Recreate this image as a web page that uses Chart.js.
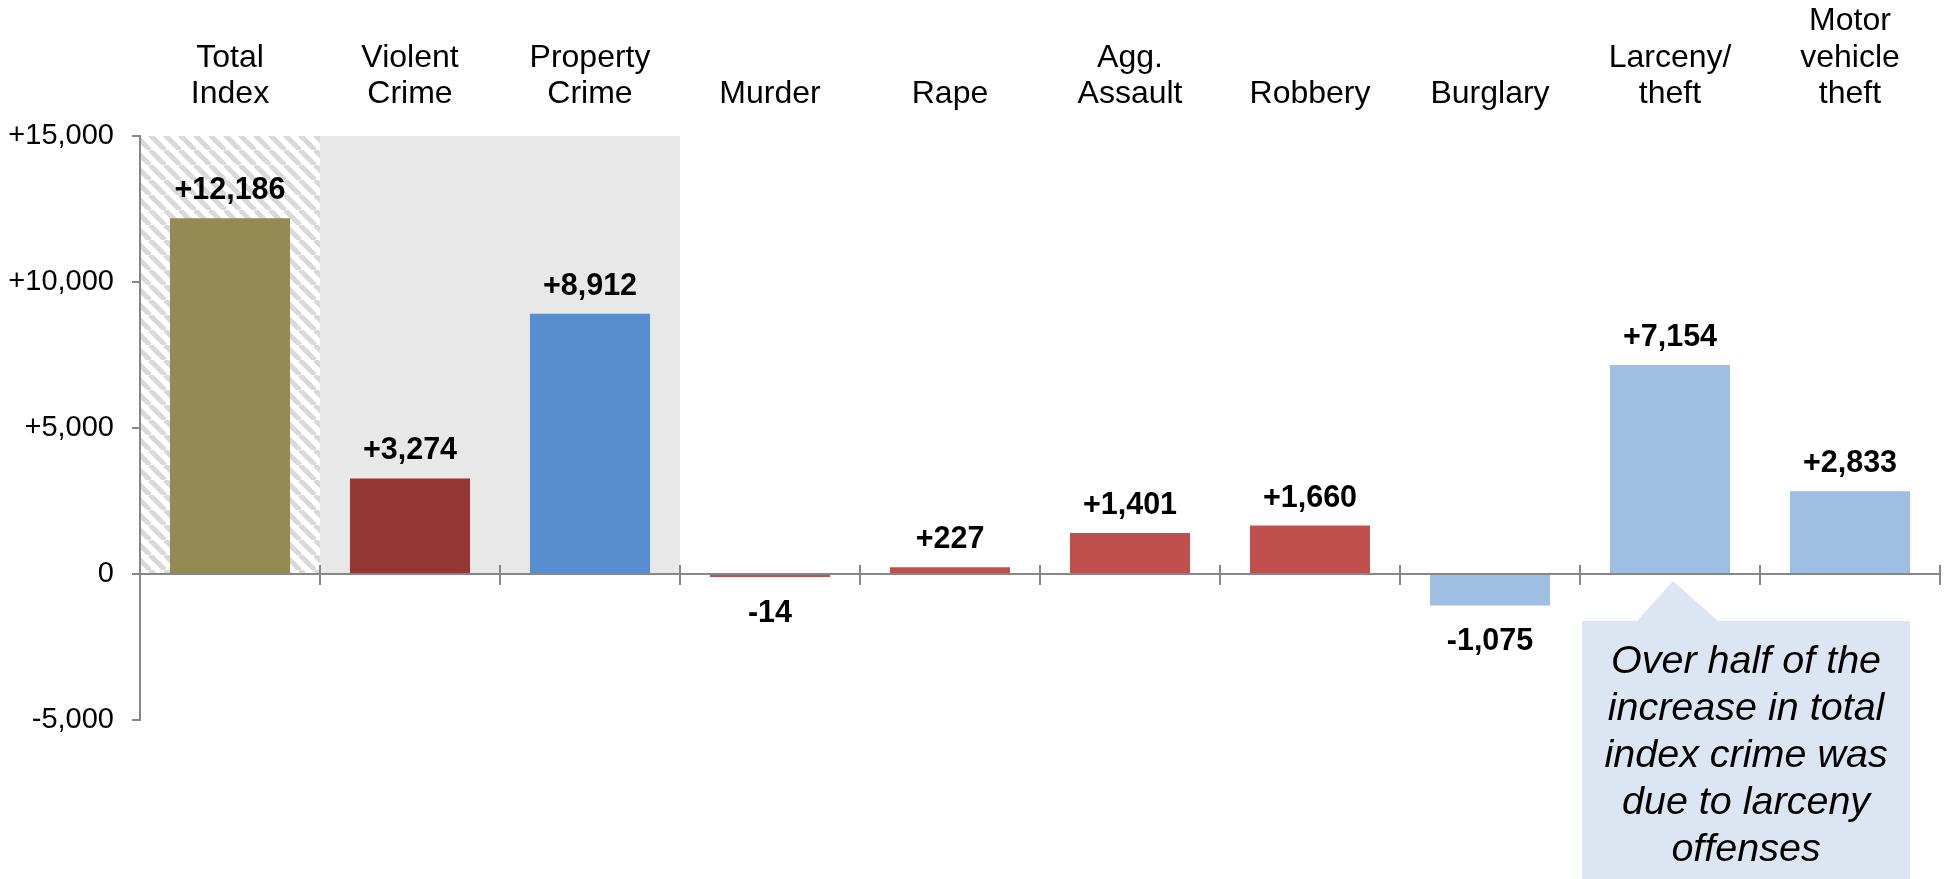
<!DOCTYPE html>
<html>
<head>
<meta charset="utf-8">
<script src="https://cdn.jsdelivr.net/npm/chart.js@4.4.1/dist/chart.umd.min.js"></script>
<style>
  html, body { margin: 0; padding: 0; background: #ffffff; overflow: hidden; }
  canvas { display: block; }
</style>
</head>
<body>
<canvas id="c" width="1946" height="879"></canvas>
<script>
// ---- data ----
const categories = [
  ["Total", "Index"], ["Violent", "Crime"], ["Property", "Crime"], "Murder", "Rape",
  ["Agg.", "Assault"], "Robbery", "Burglary", ["Larceny/", "theft"], ["Motor", "vehicle", "theft"]
];
const changeValues = [12186, 3274, 8912, -14, 227, 1401, 1660, -1075, 7154, 2833];
const yTickValues = [-5000, 0, 5000, 10000, 15000];
const calloutLines = ["Over half of the", "increase in total", "index crime was", "due to larceny", "offenses"];

// ---- styles ----
const barColors = ["#948A54", "#953735", "#588ECF", "#C0504D", "#C0504D", "#C0504D", "#C0504D", "#9EBFE2", "#9EBFE2", "#9EBFE2"];
const FONT = "'Liberation Sans', Arial, Helvetica, sans-serif";
const AXIS_GRAY = "#878787";

function fmt(v) {
  const s = Math.abs(v).toLocaleString("en-US");
  if (v > 0) return "+" + s;
  if (v < 0) return "-" + s;
  return "0";
}

function makeHatch(ctx) {
  const s = 15;
  const pc = document.createElement("canvas");
  pc.width = s; pc.height = s;
  const p = pc.getContext("2d");
  p.fillStyle = "#ffffff";
  p.fillRect(0, 0, s, s);
  p.strokeStyle = "#d9d9d9";
  p.lineWidth = 5;
  for (let k = -1; k <= 1; k++) {
    p.beginPath();
    p.moveTo(k * s, 0);
    p.lineTo(k * s + s, s);
    p.stroke();
  }
  return ctx.createPattern(pc, "repeat");
}

const backgroundPlugin = {
  id: "groupBackground",
  beforeDraw(chart) {
    const { ctx } = chart;
    const x = chart.scales.x, y = chart.scales.y;
    const half = (x.getPixelForValue(1) - x.getPixelForValue(0)) / 2;
    const top = y.getPixelForValue(15000);
    const bottom = y.getPixelForValue(0);
    ctx.save();
    ctx.fillStyle = makeHatch(ctx);
    const l0 = x.getPixelForValue(0) - half, r0 = x.getPixelForValue(0) + half;
    ctx.fillRect(l0, top, r0 - l0, bottom - top);
    ctx.fillStyle = "#E8E8E8";
    const l1 = x.getPixelForValue(1) - half, r1 = x.getPixelForValue(2) + half;
    ctx.fillRect(l1, top, r1 - l1, bottom - top);
    ctx.restore();
  }
};

const overlayPlugin = {
  id: "overlay",
  afterDatasetsDraw(chart) {
    const { ctx } = chart;
    const x = chart.scales.x, y = chart.scales.y;
    const half = (x.getPixelForValue(1) - x.getPixelForValue(0)) / 2;
    const zero = y.getPixelForValue(0);
    ctx.save();
    ctx.strokeStyle = AXIS_GRAY;
    ctx.lineWidth = 2;
    for (let i = 1; i <= categories.length; i++) {
      const px = Math.round(x.getPixelForValue(i - 1) + half);
      ctx.beginPath();
      ctx.moveTo(px, zero);
      ctx.lineTo(px, zero - 9);
      ctx.stroke();
    }
    const meta = chart.getDatasetMeta(0);
    ctx.fillStyle = "#000000";
    ctx.font = "bold 30.5px " + FONT;
    ctx.textAlign = "center";
    ctx.textBaseline = "alphabetic";
    meta.data.forEach((el, i) => {
      const v = changeValues[i];
      const props = el.getProps(["x", "y", "base"], true);
      if (v >= 0) {
        ctx.fillText(fmt(v), props.x, Math.min(props.y, props.base) - 19);
      } else {
        ctx.fillText(fmt(v), props.x, Math.max(props.y, props.base) + 45);
      }
    });
    ctx.restore();
  },
  afterDraw(chart) {
    const { ctx } = chart;
    const x = chart.scales.x, y = chart.scales.y;
    const cw = x.getPixelForValue(1) - x.getPixelForValue(0);
    const c8 = x.getPixelForValue(8);
    const c9 = x.getPixelForValue(9);
    const zero = y.getPixelForValue(0);
    const boxLeft = c8 - 0.488 * cw;
    const boxRight = c9 + 0.333 * cw;
    const boxTop = zero + 47;
    const apexX = c8 + 3, apexY = zero + 7;
    ctx.save();
    ctx.fillStyle = "#DCE6F2";
    ctx.beginPath();
    ctx.moveTo(boxLeft, boxTop);
    ctx.lineTo(apexX - 36, boxTop);
    ctx.lineTo(apexX, apexY);
    ctx.lineTo(apexX + 45, boxTop);
    ctx.lineTo(boxRight, boxTop);
    ctx.lineTo(boxRight, chart.height + 10);
    ctx.lineTo(boxLeft, chart.height + 10);
    ctx.closePath();
    ctx.fill();
    ctx.fillStyle = "#000000";
    ctx.font = "italic 39.5px " + FONT;
    ctx.textAlign = "center";
    ctx.textBaseline = "alphabetic";
    const cx = (boxLeft + boxRight) / 2;
    calloutLines.forEach((t, i) => {
      ctx.fillText(t, cx, boxTop + 52 + i * 47);
    });
    ctx.restore();
  }
};

Chart.defaults.font.family = FONT;
Chart.defaults.color = "#000000";

new Chart(document.getElementById("c"), {
  type: "bar",
  data: {
    labels: categories,
    datasets: [{
      data: changeValues,
      backgroundColor: barColors,
      borderWidth: 0,
      barPercentage: 0.667,
      categoryPercentage: 1.0,
      minBarLength: 3
    }]
  },
  options: {
    responsive: false,
    devicePixelRatio: 1,
    animation: false,
    layout: { padding: { top: 0, left: 0, right: 6, bottom: 159 } },
    plugins: { legend: { display: false }, tooltip: { enabled: false }, title: { display: false } },
    scales: {
      x: {
        type: "category",
        position: "top",
        offset: true,
        grid: { display: false, drawTicks: false },
        border: { display: false },
        ticks: {
          font: { size: 32, lineHeight: 1.13 },
          color: "#000000",
          padding: 24,
          maxRotation: 0,
          autoSkip: false
        },
        afterFit(scale) { scale.height = 136; }
      },
      x2: {
        type: "category",
        position: { y: 0 },
        offset: true,
        z: 1,
        grid: { display: true, drawOnChartArea: false, drawTicks: true, tickLength: 10, color: AXIS_GRAY, lineWidth: 2, offset: true },
        border: { display: true, color: AXIS_GRAY, width: 2 },
        ticks: { display: false }
      },
      y: {
        min: -5000,
        max: 15000,
        afterBuildTicks(scale) { scale.ticks = yTickValues.map(v => ({ value: v })); },
        grid: { display: true, drawOnChartArea: false, drawTicks: true, tickLength: 8, color: AXIS_GRAY, lineWidth: 2 },
        border: { display: true, color: AXIS_GRAY, width: 2 },
        ticks: {
          font: { size: 29 },
          color: "#000000",
          padding: 18,
          callback: (v) => fmt(v)
        },
        afterFit(scale) { scale.width = 140; }
      }
    }
  },
  plugins: [backgroundPlugin, overlayPlugin]
});
</script>
</body>
</html>
